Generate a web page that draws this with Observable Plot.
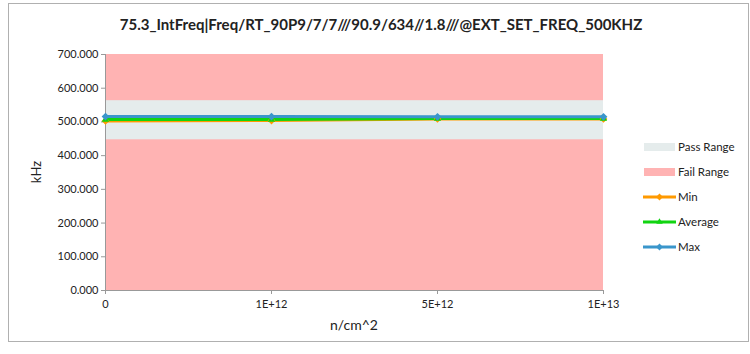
<!DOCTYPE html>
<html><head><meta charset="utf-8">
<script src="https://cdn.jsdelivr.net/npm/d3@7"></script>
<script src="https://cdn.jsdelivr.net/npm/@observablehq/plot@0.6"></script>
<style>
body{margin:0;background:#fff;font-family:Lato,"Open Sans",sans-serif;}
#wrap{position:relative;width:750px;height:354px;}
</style></head>
<body><div id="wrap"></div>
<script>
const title = "75.3_IntFreq|Freq/RT_90P9/7/7///90.9/634//1.8///@EXT_SET_FREQ_500KHZ";
const categories = ["0","1E+12","5E+12","1E+13"];
const minVals = [503, 504, 509, 509];
const avgVals = [507, 507, 510, 510];
const maxVals = [516, 516, 515, 515];
const passRange = [447, 563];
const failRange = [0, 700];
const yTicks = [0,100,200,300,400,500,600,700];
const seriesNames = ["Min","Average","Max"];
const seriesColors = ["#FF9A00","#11D411","#3A96CB"];
const seriesSymbols = ["diamond2","triangle2","diamond2"];

const rows = [];
[minVals, avgVals, maxVals].forEach((arr, s) => arr.forEach((v, i) => rows.push({s: seriesNames[s], i, v})));

const fmt = d3.format(".3f");
const plot = Plot.plot({
  width: 750, height: 354,
  marginLeft: 105, marginRight: 147, marginTop: 54, marginBottom: 64,
  style: {fontFamily: "Lato, 'Open Sans', sans-serif", fontSize: "11px", color: "#222", background: "transparent"},
  x: {domain: [0, 3], ticks: [0,1,2,3], tickFormat: i => categories[i], label: null, tickSize: 4, tickPadding: 6},
  y: {domain: [0, 700], ticks: yTicks, tickFormat: fmt, label: null, tickSize: 4, tickPadding: 3},
  color: {domain: seriesNames, range: seriesColors},
  symbol: {domain: seriesNames, range: seriesSymbols},
  marks: [
    Plot.rect([{y1: failRange[0], y2: failRange[1]}], {x1: 0, x2: 3, y1: "y1", y2: "y2", fill: "#FFB3B3"}),
    Plot.rect([{y1: passRange[0], y2: passRange[1]}], {x1: 0, x2: 3, y1: "y1", y2: "y2", fill: "#E5ECEC"}),
    Plot.ruleY([0], {stroke: "#999"}),
    Plot.ruleX([0], {stroke: "#999"}),
    Plot.axisX({ticks: [0,1,2,3], tickFormat: i => categories[i], stroke: "#999", tickSize: 4, tickPadding: 6, label: null}),
    Plot.axisY({ticks: yTicks, tickFormat: fmt, stroke: "#999", tickSize: 4, tickPadding: 3, label: null}),
    Plot.line(rows, {x: "i", y: "v", z: "s", stroke: "s", strokeWidth: 3}),
    Plot.dot(rows, {x: "i", y: "v", fill: "s", symbol: "s", r: 3.5})
  ]
});
const svg = d3.select(plot);
// border
svg.insert("rect", ":first-child").attr("x", 8.5).attr("y", 3.5).attr("width", 740).attr("height", 338).attr("fill", "#fff").attr("stroke", "#b0b0b0");
// title
svg.append("text").attr("x", 381).attr("y", 30).attr("text-anchor", "middle").attr("font-weight", "bold").attr("font-size", "15px").attr("fill", "#222").text(title);
// axis titles
svg.append("text").attr("x", 354).attr("y", 330).attr("text-anchor", "middle").attr("font-size", "14px").attr("fill", "#222").text("n/cm^2");
svg.append("text").attr("transform", "translate(41,172) rotate(-90)").attr("text-anchor", "middle").attr("font-size", "13px").attr("fill", "#222").text("kHz");
// legend
const lg = svg.append("g").attr("font-size", "11.5px").attr("fill", "#222").attr("text-anchor", "start");
const items = [
  {name: "Pass Range", type: "rect", color: "#E5ECEC"},
  {name: "Fail Range", type: "rect", color: "#FFB3B3"},
  {name: "Min", type: "line", color: seriesColors[0], sym: d3.symbolDiamond2},
  {name: "Average", type: "line", color: seriesColors[1], sym: d3.symbolTriangle2},
  {name: "Max", type: "line", color: seriesColors[2], sym: d3.symbolDiamond2}
];
items.forEach((it, k) => {
  const y = 147 + k * 25;
  if (it.type === "rect") {
    lg.append("rect").attr("x", 644).attr("y", y - 4).attr("width", 31).attr("height", 8).attr("fill", it.color);
  } else {
    lg.append("line").attr("x1", 643).attr("x2", 676).attr("y1", y).attr("y2", y).attr("stroke", it.color).attr("stroke-width", 3);
    lg.append("path").attr("d", d3.symbol(it.sym, 30)()).attr("transform", `translate(659.5,${y})`).attr("fill", it.color);
  }
  lg.append("text").attr("x", 678).attr("y", y).attr("dy", "0.35em").attr("text-anchor", "start").attr("fill", "#222").text(it.name);
});
document.getElementById("wrap").appendChild(plot);
</script></body></html>
